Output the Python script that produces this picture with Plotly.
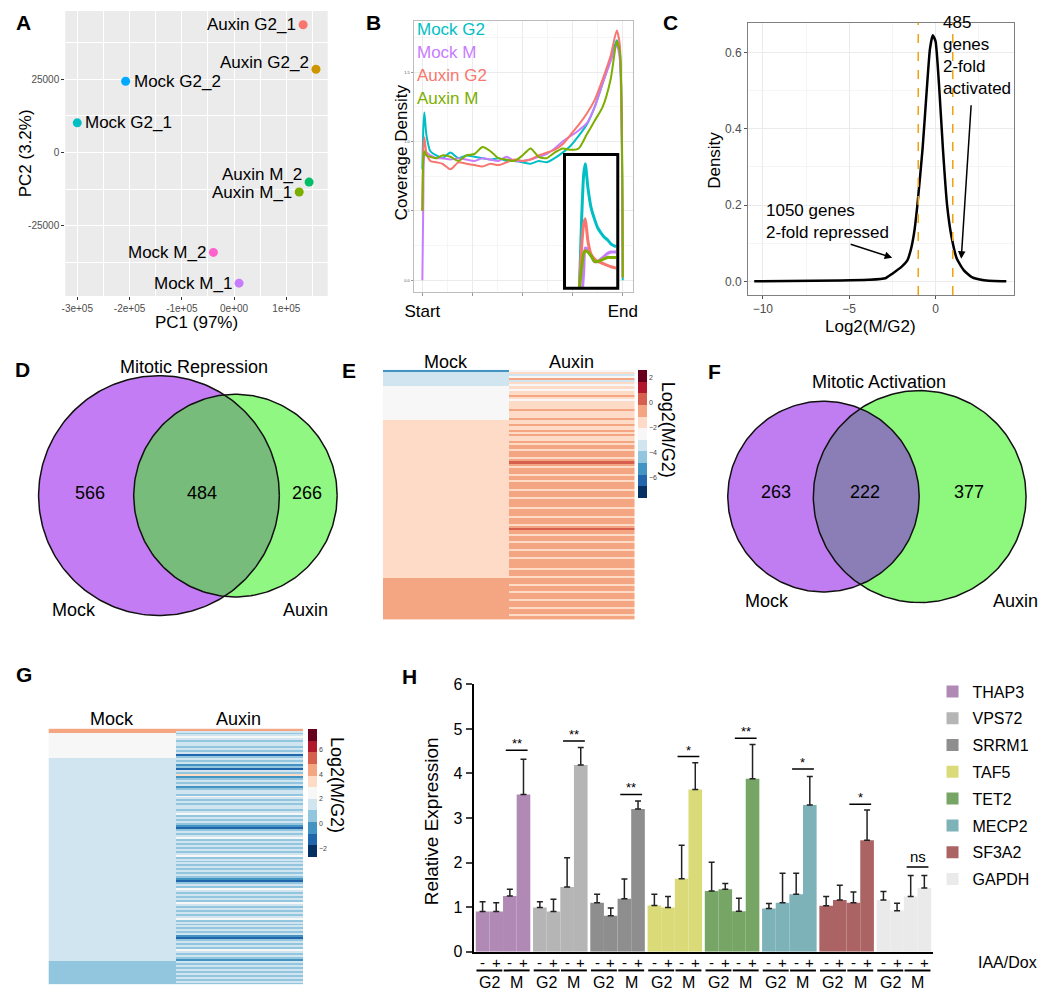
import numpy as np
import plotly.graph_objects as go

W, H = 1050, 1003
FONT = "Liberation Sans, Arial, sans-serif"

# ---------------- data ----------------
# A: PCA
pca_samples = ["Auxin G2_1", "Auxin G2_2", "Mock G2_2", "Mock G2_1",
               "Auxin M_2", "Auxin M_1", "Mock M_2", "Mock M_1"]
pc1 = [132000, 156600, -207500, -300000, 143400, 124500, -39600, 9400]
pc2 = [43600, 28400, 24300, 10100, -10100, -13500, -34100, -44600]
pca_colors = ["#F8766D", "#CD9600", "#00A9FF", "#00BFC4",
              "#00BE67", "#7CAE00", "#FF61CC", "#C77CFF"]
# label side / vertical nudge (px) for each sample
pca_label_side = ["left", "left", "right", "right", "left", "left", "left", "left"]
pca_label_lift = [0, 7, 0, 0, 8, 0, 0, 0]

# B: gene body coverage
cov_names = ["Mock G2", "Mock M", "Auxin G2", "Auxin M"]
cov_colors = ["#00BFC4", "#C77CFF", "#F8766D", "#7CAE00"]
cov_pos = [0, 0.5, 1, 2, 4, 7, 10, 14, 18, 22, 26, 30, 34, 38, 42, 46, 50, 54,
           58, 62, 66, 70, 74, 78, 82, 86, 90, 94, 97, 98.5, 100]
cov_mock_g2 = [0.80, 1.10, 1.21, 1.05, 0.93, 0.90, 0.88, 0.92, 0.88, 0.90, 0.89, 0.88,
               0.87, 0.88, 0.86, 0.86, 0.85, 0.84, 0.86, 0.85, 0.88, 0.92, 0.97, 1.04,
               1.12, 1.25, 1.42, 1.60, 1.73, 1.65, 0.0]
cov_mock_m = [0.0, 0.60, 0.90, 0.92, 0.90, 0.88, 0.88, 0.87, 0.88, 0.87, 0.86, 0.88,
              0.87, 0.86, 0.89, 0.86, 0.86, 0.87, 0.89, 0.91, 0.95, 1.00, 1.04, 1.08,
              1.13, 1.25, 1.42, 1.58, 1.70, 1.60, 0.02]
cov_auxin_g2 = [0.50, 0.95, 1.03, 0.92, 0.86, 0.85, 0.84, 0.80, 0.85, 0.84, 0.83, 0.82,
                0.84, 0.83, 0.85, 0.87, 0.86, 0.87, 0.90, 0.92, 0.94, 0.98, 1.05, 1.12,
                1.20, 1.30, 1.45, 1.62, 1.80, 1.70, 0.02]
cov_auxin_m = [0.50, 0.88, 0.93, 0.90, 0.89, 0.88, 0.90, 0.89, 0.86, 0.90, 0.91, 0.96,
               0.93, 0.88, 0.87, 0.86, 0.90, 0.95, 0.89, 0.88, 0.92, 0.95, 0.94, 0.95,
               1.05, 1.15, 1.25, 1.45, 1.72, 1.65, 0.02]
cov_series = [cov_mock_g2, cov_mock_m, cov_auxin_g2, cov_auxin_m]

# B inset (zoom on the start peak)
inset_pos = [2.8, 3.2, 3.6, 3.9, 4.4, 5.0, 5.6, 6.25, 6.9, 7.5, 8.1, 8.75, 9.7]
inset_mock_g2 = [0.0, 0.50, 0.85, 0.93, 0.75, 0.60, 0.52, 0.45, 0.41, 0.38, 0.36, 0.33, 0.31]
inset_mock_m = [-0.3, -0.1, 0.12, 0.30, 0.29, 0.25, 0.20, 0.20, 0.22, 0.24, 0.26, 0.27, 0.27]
inset_auxin_g2 = [0.0, 0.30, 0.48, 0.52, 0.35, 0.25, 0.22, 0.20, 0.19, 0.18, 0.17, 0.16, 0.15]
inset_auxin_m = [0.0, 0.15, 0.26, 0.28, 0.27, 0.24, 0.20, 0.20, 0.21, 0.22, 0.23, 0.23, 0.23]
inset_series = [inset_mock_g2, inset_mock_m, inset_auxin_g2, inset_auxin_m]

# C: density of log2(M/G2)
dens_x = [-10.5, -5.5, -3.9, -2.9, -2.5, -1.94, -1.64, -1.44, -1.25, -1.05, -0.75, -0.51,
          -0.32, -0.16, 0.0, 0.2, 0.43, 0.67, 0.93, 1.23, 1.62, 2.1, 2.8, 4.1]
dens_y = [0.0, 0.002, 0.004, 0.008, 0.02, 0.039, 0.054, 0.081, 0.124, 0.2, 0.347, 0.5,
          0.61, 0.645, 0.63, 0.518, 0.347, 0.2, 0.116, 0.06, 0.03, 0.011, 0.003, 0.0]
fold_cut = [-1, 1]

# D / F: Venn counts (mock only, shared, auxin only)
venn_rep = [566, 484, 266]
venn_act = [263, 222, 377]

# E: repressed genes heatmap (Mock blocks, Auxin rows)
e_mock_blocks = [(-5.2, 1), (-3.5, 7), (-2.5, 16), (-1.5, 76), (-0.6, 20)]
e_auxin = [
    -2.5, -1.5, -3.4, -2.4, -0.6, -3.6, -1.5, -2.4, -1.5, -2.5,
    -1.5, -1.5, -0.6, -1.5, -2.4, -1.5, -1.5, -1.5, -1.5, -0.6,
    -1.5, -1.5, -1.5, -0.6, -1.5, -1.5, -0.6, -1.5, -1.5, -0.6,
    -1.5, -0.6, -1.5, -1.5, -0.6, -1.5, -0.6, -0.6, -1.5, -0.6,
    -0.6, -0.6, -1.5, -0.6, -0.1, -0.6, -1.5, -0.6, -0.6, -0.6,
    -1.5, -0.6, -0.6, -1.5, -0.6, -0.6, -0.6, -1.5, -0.6, -0.6,
    -0.6, -1.5, -0.6, -0.6, -0.6, -0.6, -1.5, -0.6, -0.6, -0.6,
    -1.5, -0.6, -0.6, -0.6, -1.5, -0.6, -0.1, -0.6, -0.6, -1.5,
    -0.6, -0.6, -1.5, -0.6, -0.6, -0.6, -1.5, -0.6, -0.6, -0.6,
    -1.5, -0.6, -0.6, -0.6, -0.6, -1.5, -0.6, -0.6, -0.6, -1.5,
    -0.6, -0.6, -0.6, -1.5, -0.6, -0.6, -1.5, -0.6, -0.6, -0.6,
    -1.5, -0.6, -0.6, -0.6, -1.5, -0.6, -0.6, -1.5, -0.6, -0.6,
]

# G: activated genes heatmap
g_mock_blocks = [(4.3, 2), (2.5, 13), (1.6, 103), (0.6, 12)]
g_auxin = [
    4.3, 1.6, 0.6, 1.6, 2.5, 1.6, 0.6, 1.6, 1.6, 0.6,
    1.6, 0.6, 1.6, -1.2, 0.6, 1.6, 0.6, 1.6, -0.3, 0.6,
    -1.2, 1.6, 0.6, 3.3, -0.3, 0.6, 1.6, 0.6, 1.6, -0.3,
    0.6, 1.6, 1.6, 0.6, 2.5, 1.6, 0.6, 1.6, 0.6, 1.6,
    1.6, 0.6, 1.6, 2.5, 0.6, 1.6, 0.6, 1.6, 0.6, -0.3,
    -1.2, 0.6, 1.6, 0.6, 1.6, 2.5, 0.6, 1.6, 0.6, 1.6,
    0.6, 1.6, 0.6, 1.6, 2.5, 0.6, 1.6, 0.6, 1.6, 0.6,
    1.6, 0.6, 1.6, 0.6, 1.6, 0.6, -0.3, -1.2, 0.6, 1.6,
    0.6, 2.5, 1.6, 0.6, 1.6, 0.6, 1.6, 0.6, 2.5, 1.6,
    0.6, 1.6, 0.6, 1.6, 0.6, 1.6, 2.5, 0.6, 1.6, 0.6,
    1.6, 0.6, 1.6, 0.6, 1.6, -0.3, -1.2, 0.6, 1.6, 0.6,
    1.6, 0.6, 2.5, 1.6, 0.6, 1.6, 0.6, -0.3, 1.6, 0.6,
    1.6, 0.6, 1.6, 0.6, 1.6, 0.6, 1.6, 0.6, 1.6, 0.6,
]

# H: qPCR
genes = ["THAP3", "VPS72", "SRRM1", "TAF5", "TET2", "MECP2", "SF3A2", "GAPDH"]
gene_colors = ["#B08AB4", "#B5B5B5", "#8E8E8E", "#DADA78",
               "#77A565", "#7EB2B9", "#AB6363", "#EAEAEA"]
conditions = ["-", "+", "-", "+"]
phases = ["G2", "M"]
expr = [
    [0.90, 0.90, 1.25, 3.53],
    [0.99, 0.90, 1.45, 4.19],
    [1.10, 0.81, 1.19, 3.20],
    [1.04, 0.99, 1.64, 3.64],
    [1.36, 1.40, 0.91, 3.88],
    [0.97, 1.10, 1.29, 3.29],
    [1.03, 1.16, 1.10, 2.50],
    [1.16, 0.92, 1.24, 1.43],
]
expr_err_top = [
    [1.12, 1.10, 1.40, 4.32],
    [1.12, 1.18, 2.11, 4.58],
    [1.29, 0.98, 1.63, 3.38],
    [1.29, 1.24, 2.39, 4.24],
    [2.01, 1.53, 1.20, 4.65],
    [1.08, 1.76, 1.76, 3.93],
    [1.24, 1.49, 1.34, 3.18],
    [1.35, 1.09, 1.71, 1.71],
]
sig_marks = ["**", "**", "**", "*", "**", "*", "*", "ns"]
sig_level = [4.52, 4.73, 3.53, 4.38, 4.79, 4.10, 3.31, 1.90]

RDBU = ["#053061", "#2166AC", "#4393C3", "#92C5DE", "#D1E5F0", "#F7F7F7",
        "#FDDBC7", "#F4A582", "#D6604D", "#B2182B", "#67001F"]


# ---------------- helpers ----------------
def xd(a, b):
    return [a / W, b / W]


def yd(top, bottom):
    return [1 - bottom / H, 1 - top / H]


def txt(x, y, text, size=17, angle=0, bold=False, xanchor="center", yanchor="middle", align="center"):
    if bold:
        text = "<b>" + text + "</b>"
    return dict(x=x / W, y=1 - y / H, xref="paper", yref="paper", text=text, showarrow=False,
                font=dict(size=size, color="black", family=FONT), textangle=angle,
                xanchor=xanchor, yanchor=yanchor, align=align)


def stepped(colors):
    n = len(colors)
    cs = []
    for i, c in enumerate(colors):
        cs.append([i / n, c])
        cs.append([(i + 1) / n, c])
    return cs


def expand(blocks):
    out = []
    for v, n in blocks:
        out += [v] * n
    return out


fig = go.Figure()
annotations = []
shapes = []

# ---------------- A ----------------
fig.add_trace(go.Scatter(x=pc1, y=pc2, mode="markers",
                         marker=dict(color=pca_colors, size=9), xaxis="x", yaxis="y",
                         showlegend=False, hoverinfo="skip"))
for s, x, y, side, lift in zip(pca_samples, pc1, pc2, pca_label_side, pca_label_lift):
    annotations.append(dict(x=x, y=y, xref="x", yref="y", text=s, showarrow=False,
                            xanchor="right" if side == "left" else "left",
                            xshift=-5 if side == "left" else 6, yshift=lift,
                            font=dict(size=17, color="black", family=FONT)))
shapes.append(dict(type="rect", xref="x domain", yref="y domain", x0=0, x1=1, y0=0, y1=1,
                   fillcolor="#EBEBEB", line=dict(width=0), layer="below"))

# ---------------- B ----------------
for name, col, ys in zip(cov_names, cov_colors, cov_series):
    fig.add_trace(go.Scatter(x=cov_pos, y=ys, mode="lines", name=name,
                             line=dict(color=col, width=2, shape="spline", smoothing=0.6),
                             xaxis="x2", yaxis="y2", showlegend=False, hoverinfo="skip"))
for name, col, ys in zip(cov_names, cov_colors, inset_series):
    fig.add_trace(go.Scatter(x=inset_pos, y=ys, mode="lines",
                             line=dict(color=col, width=3, shape="spline", smoothing=0.6),
                             xaxis="x3", yaxis="y3", showlegend=False, hoverinfo="skip"))
shapes.append(dict(type="rect", xref="x3 domain", yref="y3 domain", x0=0, x1=1, y0=0, y1=1,
                   line=dict(color="black", width=3), layer="above"))
for i, (name, col) in enumerate(zip(cov_names, cov_colors)):
    annotations.append(dict(x=411 / W, y=1 - (22 + 23.5 * i) / H, xref="paper", yref="paper",
                            text=name, showarrow=False, xanchor="left", yanchor="middle",
                            font=dict(size=17, color=col, family=FONT)))

# ---------------- C ----------------
fig.add_trace(go.Scatter(x=dens_x, y=dens_y, mode="lines",
                         line=dict(color="black", width=2.5, shape="spline", smoothing=0.5),
                         xaxis="x4", yaxis="y4", showlegend=False, hoverinfo="skip"))
for v in fold_cut:
    shapes.append(dict(type="line", xref="x4", yref="y4 domain", x0=v, x1=v, y0=0, y1=1,
                       line=dict(color="#F2A20C", width=1.5, dash="dash")))
annotations.append(dict(x=-2.51, y=0.062, xref="x4", yref="y4", ax=-43, ay=-14, text="",
                        showarrow=True, arrowhead=2, arrowsize=1, arrowwidth=1.5, arrowcolor="black"))
annotations.append(dict(x=1.49, y=0.059, xref="x4", yref="y4", ax=10, ay=-155, text="",
                        showarrow=True, arrowhead=2, arrowsize=1, arrowwidth=1.5, arrowcolor="black"))
annotations.append(txt(765, 194, "1050 genes<br>2-fold repressed", xanchor="left", yanchor="top", align="left"))
annotations.append(txt(945, 3, "485<br>genes<br>2-fold<br>activated", xanchor="left", yanchor="top", align="left"))


# ---------------- D / F (Venn) ----------------
def venn(ax, ay, counts, k, cx1, cx2, cy, col1, col2, col_ov):
    r1 = k * np.sqrt(counts[0] + counts[1])
    r2 = k * np.sqrt(counts[1] + counts[2])
    t = np.linspace(0, 2 * np.pi, 240)
    for cx, r, col in [(cx1, r1, col1), (cx2, r2, col2)]:
        fig.add_trace(go.Scatter(x=cx + r * np.cos(t), y=cy + r * np.sin(t), mode="lines",
                                 fill="toself", fillcolor=col, line=dict(width=0),
                                 xaxis=ax, yaxis=ay, showlegend=False, hoverinfo="skip"))
    d = cx2 - cx1
    a = (r1 ** 2 - r2 ** 2 + d ** 2) / (2 * d)
    h = np.sqrt(r1 ** 2 - a ** 2)
    th1 = np.arctan2(h, a)
    th2 = np.arctan2(h, d - a)
    t1 = np.linspace(-th1, th1, 100)
    t2 = np.linspace(np.pi - th2, np.pi + th2, 100)
    lx = np.concatenate([cx1 + r1 * np.cos(t1), cx2 + r2 * np.cos(t2)])
    ly = np.concatenate([cy + r1 * np.sin(t1), cy + r2 * np.sin(t2)])
    fig.add_trace(go.Scatter(x=lx, y=ly, mode="lines", fill="toself", fillcolor=col_ov,
                             line=dict(width=0), xaxis=ax, yaxis=ay, showlegend=False, hoverinfo="skip"))
    for cx, r in [(cx1, r1), (cx2, r2)]:
        fig.add_trace(go.Scatter(x=cx + r * np.cos(t), y=cy + r * np.sin(t), mode="lines",
                                 line=dict(color="#111", width=1.5),
                                 xaxis=ax, yaxis=ay, showlegend=False, hoverinfo="skip"))


venn("x5", "y5", venn_rep, 3.765, 152, 229.5, 496, "#C47CF4", "#90F882", "#77BC7B")
venn("x6", "y6", venn_act, 4.405, 825.5, 923, 497, "#C07CF1", "#8DF87D", "#8B7EB7")

annotations.append(txt(187, 365, "Mitotic Repression", size=18))
for xp, n in zip([82, 196, 302], venn_rep):
    annotations.append(txt(xp, 493, str(n), size=18))
annotations.append(txt(66, 612, "Mock", size=18))
annotations.append(txt(300, 612, "Auxin", size=18))

annotations.append(txt(882, 380, "Mitotic Activation", size=18))
for xp, n in zip([777, 868, 973], venn_act):
    annotations.append(txt(xp, 492, str(n), size=18))
annotations.append(txt(768, 603, "Mock", size=18))
annotations.append(txt(1020, 603, "Auxin", size=18))

# ---------------- E / G heatmaps ----------------
e_mock = expand(e_mock_blocks)
g_mock = expand(g_mock_blocks)
e_z = [[m, a] for m, a in zip(e_mock, e_auxin)]
g_z = [[m, a] for m, a in zip(g_mock, g_auxin)]

fig.add_trace(go.Heatmap(z=e_z, x=[0, 1], colorscale=stepped(RDBU), zmin=-7.6, zmax=2.63,
                         xaxis="x7", yaxis="y7", hoverinfo="skip",
                         colorbar=dict(x=638 / W, xanchor="left", xpad=0, y=1 - 368 / H, yanchor="top",
                                       ypad=0, len=130 / H, lenmode="fraction", thickness=9,
                                       outlinewidth=0, tickvals=[2, 0, -2, -4, -6], ticks="",
                                       tickfont=dict(size=7, color="#444"))))
fig.add_trace(go.Heatmap(z=g_z, x=[0, 1], colorscale=stepped(RDBU), zmin=-2.63, zmax=7.67,
                         xaxis="x8", yaxis="y8", hoverinfo="skip",
                         colorbar=dict(x=303 / W, xanchor="left", xpad=0, y=1 - 733 / H, yanchor="top",
                                       ypad=0, len=130 / H, lenmode="fraction", thickness=9,
                                       outlinewidth=0, tickvals=[6, 4, 2, 0, -2], ticks="",
                                       tickfont=dict(size=7, color="#444"))))
annotations.append(txt(443, 360, "Mock", size=18))
annotations.append(txt(570, 360, "Auxin", size=18))
annotations.append(txt(668, 429, "Log2(M/G2)", size=18, angle=90))
annotations.append(txt(104, 723, "Mock", size=18))
annotations.append(txt(233, 723, "Auxin", size=18))
annotations.append(txt(333, 790, "Log2(M/G2)", size=18, angle=90))

# ---------------- H ----------------
group_step = 4.2
bar_x = [[g * group_step + b for b in range(4)] for g in range(len(genes))]
for g, gene in enumerate(genes):
    up = [t - v for t, v in zip(expr_err_top[g], expr[g])]
    fig.add_trace(go.Bar(x=bar_x[g], y=expr[g], width=1, name=gene, legendgroup=gene,
                         marker=dict(color=gene_colors[g], line=dict(width=0)),
                         error_y=dict(type="data", array=up, arrayminus=[0] * 4, symmetric=False,
                                      color="#222", thickness=1.5, width=3),
                         xaxis="x9", yaxis="y9", hoverinfo="skip"))
    # significance bar over M pair
    x0, x1 = bar_x[g][2] - 0.3, bar_x[g][3] + 0.3
    shapes.append(dict(type="line", xref="x9", yref="y9", x0=x0, x1=x1,
                       y0=sig_level[g], y1=sig_level[g], line=dict(color="black", width=1.5)))
    annotations.append(dict(x=(x0 + x1) / 2, y=sig_level[g], xref="x9", yref="y9", text=sig_marks[g],
                            showarrow=False, yanchor="bottom", yshift=-3 if sig_marks[g] != "ns" else 0,
                            font=dict(size=13 if sig_marks[g] != "ns" else 15, color="black", family=FONT)))
    # -/+ labels, phase underline and phase name under the axis
    for b in range(4):
        annotations.append(dict(x=bar_x[g][b], y=1 - 971 / H, xref="x9", yref="paper",
                                text=conditions[b], showarrow=False, yanchor="middle",
                                font=dict(size=15, color="black", family=FONT)))
    for p, phase in enumerate(phases):
        xa, xb = bar_x[g][2 * p] - 0.45, bar_x[g][2 * p + 1] + 0.45
        shapes.append(dict(type="line", xref="x9", yref="paper", x0=xa, x1=xb,
                           y0=1 - 979 / H, y1=1 - 979 / H, line=dict(color="black", width=2)))
        annotations.append(dict(x=(xa + xb) / 2, y=1 - 991 / H, xref="x9", yref="paper", text=phase,
                                showarrow=False, yanchor="middle",
                                font=dict(size=16, color="black", family=FONT)))
annotations.append(txt(980, 971, "IAA/Dox", size=16, xanchor="left"))
annotations.append(txt(429, 827, "Relative Expression", size=19, angle=-90))

# ---------------- axis titles & panel letters ----------------
annotations.append(txt(190, 320, "PC1 (97%)", size=17))
annotations.append(txt(17, 148, "PC2 (3.2%)", size=17, angle=-90))
annotations.append(txt(398, 147, "Coverage Density", size=17, angle=-90))
annotations.append(txt(715, 155, "Density", size=17, angle=-90))
annotations.append(txt(873, 324, "Log2(M/G2)", size=17))
for letter, xp, yp in [("A", 15, 15), ("B", 369, 15), ("C", 670, 15), ("D", 14, 368),
                       ("E", 345, 369), ("F", 715, 370), ("G", 15, 678), ("H", 406, 680)]:
    annotations.append(txt(xp, yp, letter, size=21, bold=True))

hidden = dict(visible=False)
grey_tick = dict(size=10, color="#4D4D4D")

fig.update_layout(
    width=W, height=H, margin=dict(l=0, r=0, t=0, b=0),
    paper_bgcolor="white", plot_bgcolor="white",
    font=dict(family=FONT, color="black"),
    showlegend=True,
    legend=dict(x=936 / W, y=1 - 678 / H, xanchor="left", yanchor="top", font=dict(size=16),
                bgcolor="rgba(0,0,0,0)", tracegroupgap=3, itemwidth=30),
    barmode="overlay",
    # A
    xaxis=dict(domain=xd(57, 323), range=[-3.23e5, 1.79e5], anchor="y",
               tickvals=[-3e5, -2e5, -1e5, 0, 1e5],
               ticktext=["-3e+05", "-2e+05", "-1e+05", "0e+00", "1e+05"],
               showgrid=True, gridcolor="white", gridwidth=1.2, zeroline=False,
               minor=dict(tickmode="linear", tick0=0, dtick=5e4, showgrid=True, gridcolor="white", gridwidth=0.5),
               ticks="outside", ticklen=3, tickcolor="#333", tickfont=grey_tick),
    yaxis=dict(domain=yd(3, 293), range=[-49000, 48300], anchor="x",
               tickvals=[-25000, 0, 25000], ticktext=["-25000", "0", "25000"],
               showgrid=True, gridcolor="white", gridwidth=1.2, zeroline=False,
               minor=dict(tickmode="linear", tick0=0, dtick=12500, showgrid=True, gridcolor="white", gridwidth=0.5),
               ticks="outside", ticklen=3, tickcolor="#333", tickfont=grey_tick),
    # B
    xaxis2=dict(domain=xd(410, 632), range=[-4.4, 104.9], anchor="y2",
                tickvals=[0, 25, 50, 75, 100], ticktext=["Start", "", "", "", "End"],
                tickfont=dict(size=17, color="black"), showgrid=True, gridcolor="#EBEBEB", zeroline=False,
                minor=dict(tickmode="linear", tick0=12.5, dtick=25, showgrid=True, gridcolor="#F5F5F5"),
                showline=True, mirror=True, linecolor="#BDBDBD", ticks="outside", ticklen=3, tickcolor="#999"),
    yaxis2=dict(domain=yd(13, 289), range=[-0.085, 1.87], anchor="x2",
                tickvals=[0, 0.5, 1, 1.5], ticktext=["0.0", "0.5", "1.0", "1.5"],
                tickfont=dict(size=4, color="#555"), showgrid=True, gridcolor="#EBEBEB", zeroline=False,
                minor=dict(tickmode="linear", tick0=0.25, dtick=0.5, showgrid=True, gridcolor="#F5F5F5"),
                showline=True, mirror=True, linecolor="#BDBDBD", ticks="outside", ticklen=2, tickcolor="#999"),
    xaxis3=dict(domain=xd(563, 617), range=[0, 10], anchor="y3", visible=False),
    yaxis3=dict(domain=yd(149, 285), range=[0, 1], anchor="x3", visible=False),
    # C
    xaxis4=dict(domain=xd(749, 1019), range=[-10.86, 4.57], anchor="y4",
                tickvals=[-10, -5, 0], tickfont=dict(size=12, color="#4D4D4D"),
                showgrid=True, gridcolor="#EBEBEB", zeroline=False,
                minor=dict(tickmode="linear", tick0=-7.5, dtick=5, showgrid=True, gridcolor="#F5F5F5"),
                showline=True, mirror=True, linecolor="#808080", ticks="outside", ticklen=3, tickcolor="#555"),
    yaxis4=dict(domain=yd(15, 292), range=[-0.036, 0.678], anchor="x4",
                tickvals=[0, 0.2, 0.4, 0.6], ticktext=["0.0", "0.2", "0.4", "0.6"],
                tickfont=dict(size=12, color="#4D4D4D"),
                showgrid=True, gridcolor="#EBEBEB", zeroline=False,
                minor=dict(tickmode="linear", tick0=0.1, dtick=0.2, showgrid=True, gridcolor="#F5F5F5"),
                showline=True, mirror=True, linecolor="#808080", ticks="outside", ticklen=3, tickcolor="#555"),
    # D / F venn
    xaxis5=dict(domain=xd(0, 345), range=[0, 345], anchor="y5", **hidden),
    yaxis5=dict(domain=yd(355, 625), range=[625, 355], anchor="x5", **hidden),
    xaxis6=dict(domain=xd(680, 1050), range=[680, 1050], anchor="y6", **hidden),
    yaxis6=dict(domain=yd(355, 625), range=[625, 355], anchor="x6", **hidden),
    # E / G heatmaps
    xaxis7=dict(domain=xd(379, 634), range=[-0.5, 1.5], anchor="y7", **hidden),
    yaxis7=dict(domain=yd(368, 622), range=[len(e_z) - 0.5, -0.5], anchor="x7", **hidden),
    xaxis8=dict(domain=xd(40, 298), range=[-0.5, 1.5], anchor="y8", **hidden),
    yaxis8=dict(domain=yd(733, 993), range=[len(g_z) - 0.5, -0.5], anchor="x8", **hidden),
    # H
    xaxis9=dict(domain=xd(471, 936), range=[-0.65, 33.0], anchor="y9",
                showticklabels=False, showline=True, linecolor="black", linewidth=2,
                ticks="", showgrid=False, zeroline=False),
    yaxis9=dict(domain=yd(688, 960), range=[0, 6], anchor="x9", dtick=1,
                tickfont=dict(size=16, color="black"), showline=True, linecolor="black", linewidth=2,
                ticks="outside", ticklen=6, tickwidth=2, showgrid=False, zeroline=False),
    shapes=shapes,
    annotations=annotations,
)

for tr in fig.data:
    if tr.type != "bar":
        tr.showlegend = False

# page body has a default 8px margin; drop it so the figure sits at the window origin
fig.write_html("out.html", config={"displayModeBar": False},
               post_script="document.body.style.margin='0px';")
